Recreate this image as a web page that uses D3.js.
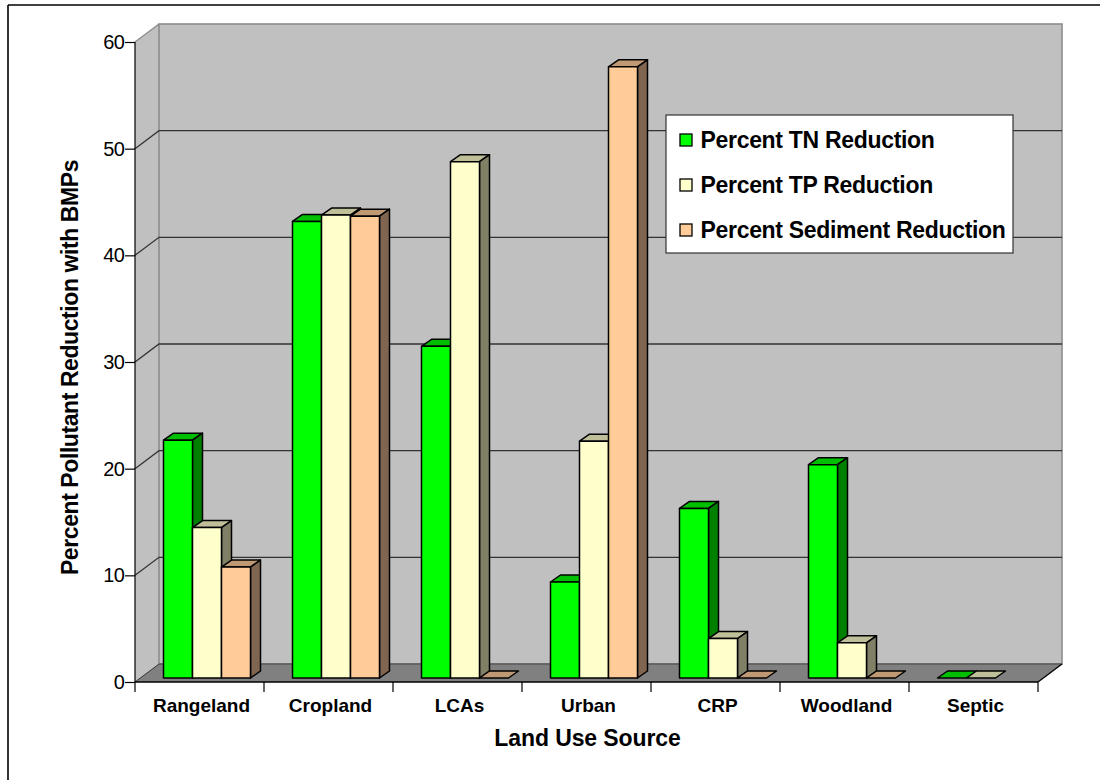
<!DOCTYPE html>
<html>
<head>
<meta charset="utf-8">
<script src="https://cdnjs.cloudflare.com/ajax/libs/d3/7.8.5/d3.min.js"></script>
<style>
  html, body { margin: 0; padding: 0; background: #fff; }
  svg { display: block; }
  text { font-family: "Liberation Sans", Arial, sans-serif; fill: #000; }
</style>
</head>
<body>
<svg id="chart" width="1100" height="780"></svg>
<script>
// Land use sources and pollutant reductions (percent); null means no bar at all
const categories = ["Rangeland", "Cropland", "LCAs", "Urban", "CRP", "Woodland", "Septic"];
const seriesNames = ["Percent TN Reduction", "Percent TP Reduction", "Percent Sediment Reduction"];
const tnValues = [22.3, 42.8, 31.1, 9.0, 15.9, 20.0, 0];
const tpValues = [14.1, 43.4, 48.4, 22.2, 3.7, 3.3, 0];
const sedimentValues = [10.4, 43.3, 0, 57.3, 0, 0, null];
const yTicks = [0, 10, 20, 30, 40, 50, 60];
const xTitle = "Land Use Source";
const yTitle = "Percent Pollutant Reduction with BMPs";

const seriesValues = [tnValues, tpValues, sedimentValues];
const faceColors = [
  { front: "#00ff00", top: "#00bf00", side: "#008000" },
  { front: "#ffffcc", top: "#bfbf99", side: "#808066" },
  { front: "#ffcc99", top: "#bf9973", side: "#806650" }
];

// Front plane of the box and the shift to its back wall
const plot = { left: 135, right: 1038, top: 42, bottom: 682 };
const wall = { dx: 24, dy: -18 };
const barDepth = { dx: 10, dy: -7 };
const barShiftY = -4;

const svg = d3.select("#chart");
const y = d3.scaleLinear().domain([0, 60]).range([plot.bottom, plot.top]);
const x0 = d3.scaleBand().domain(categories).range([plot.left, plot.right]);
const x1 = d3.scaleBand().domain(d3.range(seriesNames.length))
  .range([28.5, 28.5 + 87]);

const poly = pts => pts.map(p => p.join(",")).join(" ");

// Outer page rules: only the top and left edges are ruled
svg.append("line").attr("x1", 8).attr("x2", 1100).attr("y1", 5).attr("y2", 5)
  .attr("stroke", "#000").attr("stroke-width", 1.6);
svg.append("line").attr("x1", 8).attr("x2", 8).attr("y1", 5).attr("y2", 780)
  .attr("stroke", "#000").attr("stroke-width", 1.6);

const box = svg.append("g");

// Side wall
box.append("polygon")
  .attr("points", poly([
    [plot.left, plot.top],
    [plot.left + wall.dx, plot.top + wall.dy],
    [plot.left + wall.dx, plot.bottom + wall.dy],
    [plot.left, plot.bottom]
  ]))
  .attr("fill", "#c0c0c0");

// Back wall
box.append("rect")
  .attr("x", plot.left + wall.dx).attr("y", plot.top + wall.dy)
  .attr("width", plot.right - plot.left)
  .attr("height", plot.bottom - plot.top)
  .attr("fill", "#c0c0c0")
  .attr("stroke", "#8c8c8c").attr("stroke-width", 1.6);

// Floor
box.append("polygon")
  .attr("points", poly([
    [plot.left, plot.bottom],
    [plot.left + wall.dx, plot.bottom + wall.dy],
    [plot.right + wall.dx, plot.bottom + wall.dy],
    [plot.right, plot.bottom]
  ]))
  .attr("fill", "#808080");
box.append("line")
  .attr("x1", plot.left + wall.dx).attr("x2", plot.right + wall.dx)
  .attr("y1", plot.bottom + wall.dy).attr("y2", plot.bottom + wall.dy)
  .attr("stroke", "#5a5a5a").attr("stroke-width", 1.6);

// Gridlines run along the back wall and fold down the side wall
const gridTicks = yTicks.filter(t => t > 0 && t < 60);
box.selectAll(".grid").data(gridTicks).join("polyline")
  .attr("class", "grid")
  .attr("points", t => poly([
    [plot.left, y(t)],
    [plot.left + wall.dx, y(t) + wall.dy],
    [plot.right + wall.dx, y(t) + wall.dy]
  ]))
  .attr("fill", "none").attr("stroke", "#333").attr("stroke-width", 1.3);

box.append("line")
  .attr("x1", plot.left).attr("y1", plot.top)
  .attr("x2", plot.left + wall.dx).attr("y2", plot.top + wall.dy)
  .attr("stroke", "#8c8c8c").attr("stroke-width", 1.3);
box.append("line")
  .attr("x1", plot.left).attr("y1", plot.bottom)
  .attr("x2", plot.left + wall.dx).attr("y2", plot.bottom + wall.dy)
  .attr("stroke", "#333").attr("stroke-width", 1);
box.append("line")
  .attr("x1", plot.right).attr("y1", plot.bottom)
  .attr("x2", plot.right + wall.dx).attr("y2", plot.bottom + wall.dy)
  .attr("stroke", "#000").attr("stroke-width", 1.3);

// Bars, series by series inside each category so nearer faces overlap
const barStroke = { stroke: "#000", width: 1.5 };
const bars = svg.append("g");
categories.forEach((cat, c) => {
  seriesValues.forEach((vals, s) => {
    const v = vals[c];
    if (v === null) return;
    const colors = faceColors[s];
    const xl = x0(cat) + x1(s);
    const xr = xl + x1.bandwidth();
    const yb = y(0) + barShiftY;
    const yt = y(v) + barShiftY;
    const g = bars.append("g")
      .attr("stroke", barStroke.stroke)
      .attr("stroke-width", barStroke.width)
      .attr("stroke-linejoin", "round");
    g.append("polygon").attr("fill", colors.top).attr("points", poly([
      [xl, yt], [xl + barDepth.dx, yt + barDepth.dy],
      [xr + barDepth.dx, yt + barDepth.dy], [xr, yt]
    ]));
    if (v > 0) {
      g.append("polygon").attr("fill", colors.side).attr("points", poly([
        [xr, yt], [xr + barDepth.dx, yt + barDepth.dy],
        [xr + barDepth.dx, yb + barDepth.dy], [xr, yb]
      ]));
      g.append("rect").attr("fill", colors.front)
        .attr("x", xl).attr("y", yt)
        .attr("width", xr - xl).attr("height", yb - yt);
    }
  });
});

// Value axis
const yAxis = d3.axisLeft(y).tickValues(yTicks).tickSize(10).tickPadding(1);
const yAxisG = svg.append("g").attr("transform", `translate(${plot.left},0)`).call(yAxis);
yAxisG.select(".domain").remove();
yAxisG.selectAll(".tick line").attr("stroke", "#000").attr("stroke-width", 1.2);
yAxisG.selectAll(".tick text")
  .attr("font-size", 20).attr("letter-spacing", -0.8).attr("font-family", null);
svg.append("line")
  .attr("x1", plot.left).attr("x2", plot.left)
  .attr("y1", plot.top).attr("y2", plot.bottom)
  .attr("stroke", "#000").attr("stroke-width", 1.2);

// Category axis: labels sit mid-band, tick marks at the band edges
const xAxis = d3.axisBottom(x0).tickSize(0).tickPadding(17);
const xAxisG = svg.append("g").attr("transform", `translate(2,${plot.bottom})`).call(xAxis);
xAxisG.select(".domain").remove();
xAxisG.selectAll(".tick text")
  .attr("font-size", 19).attr("font-weight", "bold")
  .attr("letter-spacing", 0).attr("font-family", null);
svg.append("line")
  .attr("x1", plot.left).attr("x2", plot.right)
  .attr("y1", plot.bottom).attr("y2", plot.bottom)
  .attr("stroke", "#000").attr("stroke-width", 1.5);
svg.selectAll(".xtick").data(d3.range(categories.length + 1)).join("line")
  .attr("class", "xtick")
  .attr("x1", i => plot.left + i * x0.step())
  .attr("x2", i => plot.left + i * x0.step())
  .attr("y1", plot.bottom).attr("y2", plot.bottom + 10)
  .attr("stroke", "#000").attr("stroke-width", 1.2);

// Axis titles
svg.append("text").text(xTitle)
  .attr("x", 587.5).attr("y", 746).attr("text-anchor", "middle")
  .attr("font-size", 23).attr("font-weight", "bold").attr("letter-spacing", -0.1);
svg.append("text").text(yTitle)
  .attr("transform", "translate(77.5,367.5) rotate(-90)").attr("text-anchor", "middle")
  .attr("font-size", 23).attr("font-weight", "bold").attr("letter-spacing", -0.42);

// Legend box
const legend = svg.append("g").attr("transform", "translate(666,115)");
legend.append("rect").attr("width", 347).attr("height", 138)
  .attr("fill", "#fff").attr("stroke", "#333").attr("stroke-width", 1.2);
const rows = legend.selectAll(".row").data(seriesNames).join("g")
  .attr("class", "row")
  .attr("transform", (d, i) => `translate(0,${32 + i * 45})`);
rows.append("rect")
  .attr("x", 14).attr("y", -13).attr("width", 12).attr("height", 12)
  .attr("fill", (d, i) => faceColors[i].front)
  .attr("stroke", "#000").attr("stroke-width", 1.3);
rows.append("text").text(d => d)
  .attr("x", 34.5).attr("y", 1)
  .attr("font-size", 23).attr("font-weight", "bold").attr("letter-spacing", -0.31);
</script>
</body>
</html>
